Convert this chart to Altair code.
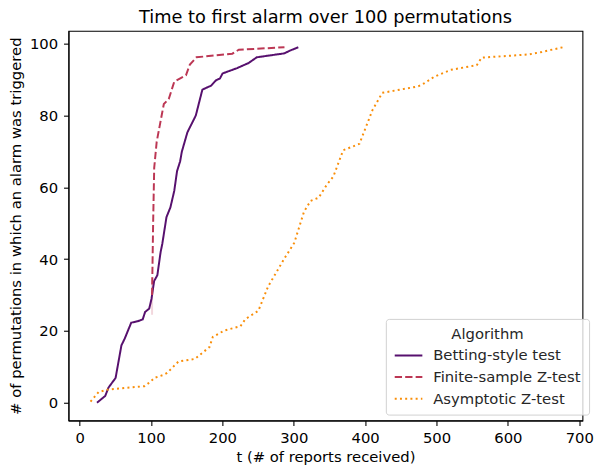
import altair as alt
import pandas as pd

algorithms = ["Betting-style test", "Finite-sample Z-test", "Asymptotic Z-test"]
colors = ["#57106e", "#bc3754", "#f98e09"]
dashes = [[1, 0], [7.4, 3.2], [2, 3.3]]

betting_t = [24.4, 35.9, 40.4, 50.4, 58.6, 63.3, 72.3, 81.5, 88.4, 91.8, 97.5, 100.7,
             104.4, 108.9, 113.5, 115.8, 121.7, 127.2, 132.6, 136.5, 140.8, 143.2, 151.0,
             156.8, 162.8, 172.0, 184.2, 191.1, 196.6, 200.3, 220.8, 236.7, 248.2, 287.0,
             294.0, 306.4]
betting_n = [0, 1.9, 4.2, 6.9, 16.0, 17.9, 22.3, 22.7, 23.2, 25.3, 26.2, 28.9,
             33.9, 35.5, 42.0, 44.2, 51.7, 54.4, 59.0, 64.5, 67.2, 69.9, 75.3,
             77.6, 80.0, 87.2, 88.3, 89.8, 90.3, 91.7, 93.2, 94.6, 96.2, 97.3,
             98.0, 99.0]

finite_t = [101.5, 103.0, 104.5, 108.0, 118.0, 124.9, 132.6, 149.0, 154.5, 163.7,
            213.9, 223.0, 287.0]
finite_n = [30.0, 50.0, 65.4, 72.7, 83.2, 84.6, 89.4, 91.2, 94.2, 96.2,
            97.2, 98.3, 99.0]

asym_t = [15.3, 26.7, 40.4, 90.7, 99.7, 104.4, 118.0, 122.6, 138.6, 161.4, 181.9,
          186.6, 202.5, 225.3, 232.2, 250.4, 264.1, 287.0, 300.7, 314.4, 323.6, 334.9,
          346.3, 355.5, 369.2, 392.0, 410.3, 424.0, 474.2, 483.3, 497.0, 519.9, 556.4,
          563.2, 629.5, 647.7, 677.4]
asym_n = [0.3, 3.0, 3.7, 4.6, 5.9, 6.9, 7.8, 8.3, 11.5, 12.2, 15.5,
          18.3, 20.1, 21.3, 23.3, 25.6, 32.4, 40.2, 44.5, 53.2, 56.2, 57.1,
          60.7, 63.0, 70.3, 72.1, 81.5, 86.3, 88.1, 89.0, 90.8, 92.7, 94.0,
          96.1, 97.0, 97.7, 99.0]

# faint confidence band of the finite-sample line at its first time step
band_t = [101.5]
band_lo = [24.5]
band_hi = [35.0]

rows = []
for name, ts, ns in zip(algorithms, [betting_t, finite_t, asym_t], [betting_n, finite_n, asym_n]):
    rows += [{"Algorithm": name, "t": t, "n": n} for t, n in zip(ts, ns)]
df = pd.DataFrame(rows)
band_df = pd.DataFrame({"t": band_t, "lo": band_lo, "hi": band_hi})

xscale = alt.Scale(domain=[-15.6, 704.5], nice=False, zero=False)
yscale = alt.Scale(domain=[-4.95, 103.57], nice=False, zero=False)

lines = alt.Chart(df).mark_line(strokeWidth=2, clip=True).encode(
    x=alt.X("t:Q", scale=xscale,
            axis=alt.Axis(values=list(range(0, 701, 100)), title="t (# of reports received)")),
    y=alt.Y("n:Q", scale=yscale,
            axis=alt.Axis(values=[0, 20, 40, 60, 80, 100],
                          title="# of permutations in which an alarm was triggered")),
    color=alt.Color("Algorithm:N", scale=alt.Scale(domain=algorithms, range=colors),
                    legend=alt.Legend(title="Algorithm")),
    strokeDash=alt.StrokeDash("Algorithm:N", scale=alt.Scale(domain=algorithms, range=dashes),
                              legend=alt.Legend(title="Algorithm")),
    order=alt.Order("t:Q"),
)

band = alt.Chart(band_df).mark_rule(color="#bc3754", opacity=0.2, strokeWidth=2).encode(
    x=alt.X("t:Q", scale=xscale),
    y=alt.Y("lo:Q", scale=yscale),
    y2="hi:Q",
)

chart = alt.layer(band, lines).properties(
    width=521, height=395,
    title="Time to first alarm over 100 permutations",
    autosize=alt.AutoSizeParams(type="none"),
    padding={"left": 61.3, "top": 20, "right": 12.7, "bottom": 46},
).configure(
    font="DejaVu Sans",
).configure_view(
    stroke="black", strokeWidth=1.1,
).configure_axis(
    grid=False, domainColor="black", domainWidth=1.1, tickColor="black", tickSize=5,
    tickWidth=1.1, labelFontSize=15, labelColor="black", labelPadding=6,
    titleFontSize=15, titleFontWeight="normal", titleColor="black",
    labelFont="DejaVu Sans", titleFont="DejaVu Sans",
).configure_axisY(
    titlePadding=6,
).configure_axisX(
    labelPadding=5, titlePadding=5,
).configure_title(
    fontSize=18, fontWeight="normal", font="DejaVu Sans", color="black",
    baseline="alphabetic", offset=4,
).configure_legend(
    orient="none", legendX=321.7, legendY=292,
    fillColor="rgba(255,255,255,0.8)", strokeColor="#d0d0d0", cornerRadius=3, padding=8,
    titleFontSize=15, titleFontWeight="normal", titleColor="#262626", titleAnchor="middle",
    labelFontSize=15, labelColor="#262626", labelFont="DejaVu Sans", titleFont="DejaVu Sans",
    symbolType="M-1,0L3,0", symbolSize=196, symbolStrokeWidth=2, rowPadding=6,
    labelOffset=24, titlePadding=6,
)

chart.save("out.html", embed_options={"renderer": "svg", "actions": False})
